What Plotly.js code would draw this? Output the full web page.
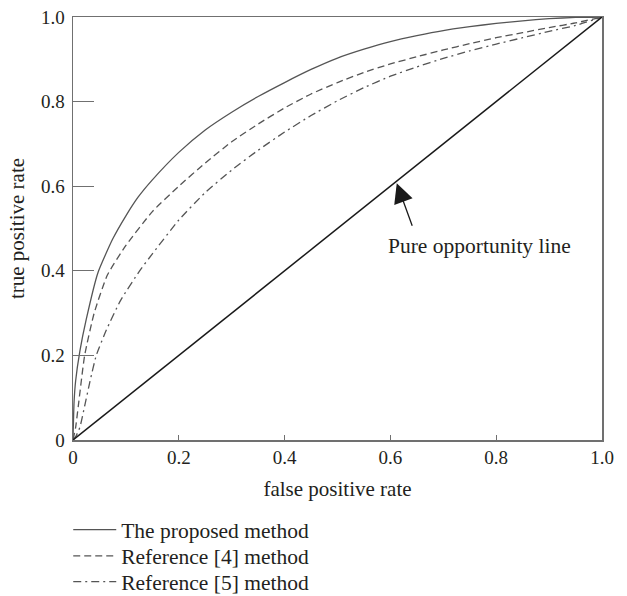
<!DOCTYPE html>
<html>
<head>
<meta charset="utf-8">
<script src="https://cdn.plot.ly/plotly-3.0.1.min.js"></script>
<style>html,body{margin:0;padding:0;background:#fff;}#chart{width:627px;height:596px;}</style>
</head>
<body>
<div id="chart"></div>
<script>
const proposedFpr = [0, 0.002, 0.005, 0.013, 0.025, 0.047, 0.075, 0.1, 0.123, 0.15, 0.2, 0.25, 0.3, 0.35, 0.4, 0.45, 0.5, 0.55, 0.6, 0.65, 0.7, 0.75, 0.8, 0.85, 0.9, 0.95, 1.0];
const proposedTpr = [0, 0.09, 0.14, 0.21, 0.285, 0.395, 0.475, 0.53, 0.574, 0.615, 0.68, 0.733, 0.775, 0.812, 0.845, 0.876, 0.903, 0.924, 0.942, 0.956, 0.968, 0.977, 0.985, 0.991, 0.996, 0.999, 1.0];
const ref4Fpr = [0, 0.005, 0.01, 0.022, 0.04, 0.065, 0.1, 0.15, 0.2, 0.25, 0.3, 0.35, 0.4, 0.45, 0.5, 0.55, 0.6, 0.65, 0.7, 0.75, 0.8, 0.85, 0.9, 0.95, 1.0];
const ref4Tpr = [0, 0.03, 0.08, 0.2, 0.3, 0.39, 0.46, 0.54, 0.6, 0.655, 0.705, 0.747, 0.785, 0.818, 0.845, 0.869, 0.889, 0.906, 0.922, 0.937, 0.951, 0.963, 0.975, 0.986, 1.0];
const ref5Fpr = [0, 0.006, 0.013, 0.022, 0.032, 0.044, 0.063, 0.09, 0.126, 0.15, 0.2, 0.25, 0.3, 0.35, 0.4, 0.45, 0.5, 0.55, 0.6, 0.65, 0.7, 0.75, 0.8, 0.85, 0.9, 0.95, 1.0];
const ref5Tpr = [0, 0.01, 0.03, 0.08, 0.138, 0.2, 0.26, 0.33, 0.4, 0.44, 0.52, 0.585, 0.638, 0.685, 0.728, 0.767, 0.802, 0.833, 0.86, 0.882, 0.902, 0.92, 0.936, 0.951, 0.966, 0.98, 1.0];
const diagX = [0, 1];
const diagY = [0, 1];
const tickVals = [0, 0.2, 0.4, 0.6, 0.8, 1.0];
const tickText = ['0', '0.2', '0.4', '0.6', '0.8', '1.0'];
const seriesNames = ['The proposed method', 'Reference [4] method', 'Reference [5] method'];
const annotationText = 'Pure opportunity line';

const FONT = 'Liberation Serif, Times New Roman, serif';
const curveColor = '#555555';
const axisColor = '#707070';
const textColor = '#231f20';

const traces = [
  {x: proposedFpr, y: proposedTpr, mode: 'lines', name: seriesNames[0], legend: 'legend', line: {color: curveColor, width: 1.3, dash: 'solid', shape: 'spline', smoothing: 0.5}},
  {x: ref4Fpr, y: ref4Tpr, mode: 'lines', name: seriesNames[1], legend: 'legend2', line: {color: curveColor, width: 1.3, dash: '7px,4px', shape: 'spline', smoothing: 0.5}},
  {x: ref5Fpr, y: ref5Tpr, mode: 'lines', name: seriesNames[2], legend: 'legend3', line: {color: curveColor, width: 1.3, dash: '8px,4px,2px,4px', shape: 'spline', smoothing: 0.5}},
  {x: diagX, y: diagY, mode: 'lines', showlegend: false, line: {color: '#1a1a1a', width: 1.5}}
];

function legendAt(yPaper) {
  return {x: -0.009, y: yPaper, xanchor: 'left', yanchor: 'middle', orientation: 'v',
    font: {family: FONT, size: 21.5, color: textColor}, bgcolor: 'rgba(0,0,0,0)', itemwidth: 43};
}

const layout = {
  width: 627, height: 596,
  margin: {l: 73, r: 25, t: 17, b: 156, autoexpand: false},
  paper_bgcolor: '#fff', plot_bgcolor: '#fff',
  font: {family: FONT, size: 19, color: textColor},
  showlegend: true,
  legend: legendAt(-0.212),
  legend2: legendAt(-0.274),
  legend3: legendAt(-0.335),
  xaxis: {
    range: [0, 1], tickvals: tickVals, ticktext: tickText,
    ticks: 'inside', ticklen: 5, tickwidth: 1, tickcolor: axisColor,
    showline: true, linecolor: axisColor, linewidth: 1.5, mirror: true,
    showgrid: false, zeroline: false, fixedrange: true, automargin: false,
    title: {text: 'false positive rate', font: {family: FONT, size: 21, color: textColor}, standoff: 14},
    tickfont: {family: FONT, size: 19, color: textColor}
  },
  yaxis: {
    range: [0, 1], tickvals: tickVals, ticktext: tickText,
    ticks: 'inside', ticklen: 21, tickwidth: 1.2, tickcolor: axisColor,
    showline: true, linecolor: axisColor, linewidth: 1.5, mirror: true,
    showgrid: false, zeroline: false, fixedrange: true, automargin: false,
    ticklabelstandoff: 3,
    title: {text: 'true positive rate', font: {family: FONT, size: 21, color: textColor}, standoff: 10},
    tickfont: {family: FONT, size: 19, color: textColor}
  },
  annotations: [
    {x: 0.612, y: 0.607, xref: 'x', yref: 'y', text: '', showarrow: true, arrowhead: 2, arrowsize: 3, arrowwidth: 1.3, arrowcolor: '#1a1a1a', ax: 16, ay: 44},
    {x: 0.769, y: 0.459, xref: 'x', yref: 'y', text: annotationText, showarrow: false, font: {family: FONT, size: 21.5, color: textColor}}
  ]
};

Plotly.newPlot('chart', traces, layout, {displayModeBar: false, staticPlot: true});
</script>
</body>
</html>
